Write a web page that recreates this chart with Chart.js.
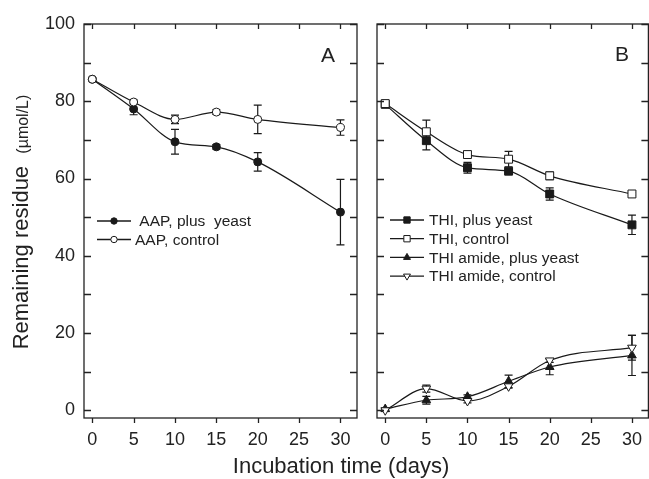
<!DOCTYPE html>
<html>
<head>
<meta charset="utf-8">
<script src="https://cdn.jsdelivr.net/npm/chart.js@4.4.1/dist/chart.umd.min.js"></script>
<style>
  html, body { margin: 0; padding: 0; background: #fff; overflow: hidden; }
  body { width: 649px; height: 479px; position: relative; font-family: "Liberation Sans", Arial, sans-serif; }
  #panelA { position: absolute; left: 0; top: 0; }
  #panelB { position: absolute; left: 365px; top: 0; }
  #xTitle { position: absolute; left: 0; width: 682px; top: 454px; text-align: center; font-size: 22px; line-height: 24px; color: #222; }
</style>
</head>
<body>
<canvas id="panelA" width="365" height="479"></canvas>
<canvas id="panelB" width="290" height="479"></canvas>
<div id="xTitle">Incubation time (days)</div>
<script>
// --- data ---
const days = [0, 5, 10, 15, 20, 30];
const xTicks = [0, 5, 10, 15, 20, 25, 30];
const yTicks = [0, 20, 40, 60, 80, 100];
const yMinorTicks = [10, 30, 50, 70, 90];

// panel A
const aapYeast = [85.7, 78.0, 69.5, 68.2, 64.3, 51.3];
const aapYeastErr = [0.4, 1.5, 3.2, 0.6, 2.4, 8.5];
const aapControl = [85.7, 79.8, 75.3, 77.2, 75.3, 73.2];
const aapControlErr = [0.3, 0.5, 1.1, 0.6, 3.7, 2.0];

// panel B
const thiYeast = [79.2, 69.8, 62.8, 61.9, 56.0, 48.0];
const thiYeastErr = [0.8, 2.4, 1.4, 0.5, 1.6, 2.5];
const thiControl = [79.4, 72.1, 66.2, 65.0, 60.7, 56.0];
const thiControlErr = [0.8, 3.0, 0.8, 2.0, 1.0, 0.4];
const amideYeast = [0.3, 2.6, 3.5, 7.5, 11.2, 14.2];
const amideYeastErr = [0.3, 1.0, 0.5, 1.6, 2.0, 5.2];
const amideControl = [0.0, 5.6, 2.4, 6.2, 12.9, 16.2];
const amideControlErr = [0.3, 0.9, 0.5, 0.5, 0.5, 3.2];

const INK = '#1a1a1a';
const FONT = '"Liberation Sans", Arial, sans-serif';

function points(values) {
    return days.map((d, i) => ({ x: d, y: values[i] }));
}

function series(label, values, errors, style, filled, order) {
    return {
        label: label,
        data: points(values),
        errors: errors,
        order: order,
        borderColor: INK,
        borderWidth: 1.2,
        cubicInterpolationMode: 'monotone',
        pointStyle: style.shape,
        pointRotation: style.rotation || 0,
        pointRadius: style.radius,
        pointBackgroundColor: filled ? INK : '#fff',
        pointBorderColor: INK,
        pointBorderWidth: 1
    };
}

// frame with inward ticks on top/left/right and outward ticks at the bottom
const frameAndTicks = {
    id: 'frameAndTicks',
    afterDraw(chart) {
        const { ctx, chartArea: a, scales: { x, y } } = chart;
        ctx.save();
        ctx.strokeStyle = '#222';
        ctx.lineWidth = 1.3;
        ctx.strokeRect(a.left, a.top, a.right - a.left, a.bottom - a.top);
        ctx.beginPath();
        xTicks.forEach(v => {
            const px = Math.round(x.getPixelForValue(v)) + 0.5;
            ctx.moveTo(px, a.bottom); ctx.lineTo(px, a.bottom + 5);
            ctx.moveTo(px, a.top); ctx.lineTo(px, a.top + 5);
        });
        yTicks.concat(yMinorTicks).forEach(v => {
            const py = Math.round(y.getPixelForValue(v)) + 0.5;
            ctx.moveTo(a.left, py); ctx.lineTo(a.left + 7, py);
            ctx.moveTo(a.right, py); ctx.lineTo(a.right - 7, py);
        });
        ctx.stroke();
        ctx.restore();
    }
};

// error bars, drawn under the markers
const errorBars = {
    id: 'errorBars',
    beforeDatasetsDraw(chart) {
        const { ctx, scales: { x, y } } = chart;
        ctx.save();
        ctx.strokeStyle = INK;
        ctx.lineWidth = 1.2;
        chart.data.datasets.forEach(ds => {
            ds.data.forEach((p, i) => {
                const e = ds.errors[i];
                if (!e) return;
                const px = x.getPixelForValue(p.x);
                const top = y.getPixelForValue(p.y + e);
                const bot = y.getPixelForValue(p.y - e);
                ctx.beginPath();
                ctx.moveTo(px, top); ctx.lineTo(px, bot);
                ctx.moveTo(px - 4, top); ctx.lineTo(px + 4, top);
                ctx.moveTo(px - 4, bot); ctx.lineTo(px + 4, bot);
                ctx.stroke();
            });
        });
        ctx.restore();
    }
};

// legend of the "—●— label" kind, placed inside the plot
function lineLegend(x0, y0, dy, textX, fontSize, labels) {
    return {
        id: 'lineLegend',
        afterDraw(chart) {
            const ctx = chart.ctx;
            ctx.save();
            ctx.font = fontSize + 'px ' + FONT;
            ctx.textBaseline = 'middle';
            ctx.textAlign = 'left';
            labels.forEach((label, i) => {
                const ds = chart.data.datasets[i];
                const yy = y0 + i * dy;
                ctx.strokeStyle = INK;
                ctx.lineWidth = 1.3;
                ctx.beginPath();
                ctx.moveTo(x0, yy); ctx.lineTo(x0 + 34, yy);
                ctx.stroke();
                ctx.fillStyle = ds.pointBackgroundColor;
                ctx.lineWidth = 1;
                Chart.helpers.drawPoint(ctx, {
                    pointStyle: ds.pointStyle,
                    rotation: ds.pointRotation,
                    radius: ds.pointRadius * 0.8,
                    borderWidth: 1
                }, x0 + 17, yy);
                ctx.fillStyle = '#222';
                ctx.fillText(label, textX, yy + 1);
            });
            ctx.restore();
        }
    };
}

function panelLetter(letter, x, y) {
    return {
        id: 'panelLetter',
        afterDraw(chart) {
            const ctx = chart.ctx;
            ctx.save();
            ctx.font = '21px ' + FONT;
            ctx.fillStyle = '#222';
            ctx.textAlign = 'center';
            ctx.textBaseline = 'middle';
            ctx.fillText(letter, x, y);
            ctx.restore();
        }
    };
}

const yTitle = {
    id: 'yTitle',
    afterDraw(chart) {
        const ctx = chart.ctx;
        const main = 'Remaining residue  ';
        const unit = '(µmol/L)';
        ctx.save();
        ctx.translate(28, 222);
        ctx.rotate(-Math.PI / 2);
        ctx.fillStyle = '#222';
        ctx.textBaseline = 'alphabetic';
        ctx.textAlign = 'left';
        ctx.font = '22px ' + FONT;
        const w1 = ctx.measureText(main).width;
        ctx.font = '16px ' + FONT;
        const w2 = ctx.measureText(unit).width;
        const start = -(w1 + w2) / 2;
        ctx.font = '22px ' + FONT;
        ctx.fillText(main, start, 0);
        ctx.font = '16px ' + FONT;
        ctx.fillText(unit, start + w1, 0);
        ctx.restore();
    }
};

function baseOptions(showYLabels, yWidth, padRight) {
    return {
        responsive: false,
        animation: false,
        devicePixelRatio: 1,
        layout: { padding: { top: 24, right: padRight, left: 0, bottom: 0 } },
        plugins: { legend: { display: false }, tooltip: { enabled: false } },
        scales: {
            x: {
                type: 'linear',
                min: -1,
                max: 32,
                afterBuildTicks: s => { s.ticks = xTicks.map(v => ({ value: v })); },
                afterFit: s => { s.height = 61; },
                grid: { display: false, drawTicks: false },
                border: { display: false },
                ticks: { color: '#222', padding: 11, maxRotation: 0, font: { family: FONT, size: 18 } }
            },
            y: {
                type: 'linear',
                min: -2,
                max: 100,
                afterBuildTicks: s => { s.ticks = yTicks.map(v => ({ value: v })); },
                afterFit: s => { s.width = yWidth; },
                grid: { display: false, drawTicks: false },
                border: { display: false },
                ticks: { display: showYLabels, color: '#222', padding: 9, font: { family: FONT, size: 18 } }
            }
        }
    };
}

function renderPanelA() {
    const ctx = document.getElementById('panelA').getContext('2d');
    new Chart(ctx, {
        type: 'line',
        data: {
            datasets: [
                series('AAP, plus  yeast', aapYeast, aapYeastErr, { shape: 'circle', radius: 4 }, true, 1),
                series('AAP, control', aapControl, aapControlErr, { shape: 'circle', radius: 4 }, false, 0)
            ]
        },
        options: baseOptions(true, 84, 8),
        plugins: [
            errorBars,
            frameAndTicks,
            lineLegend(97, 221, 18.5, 135, 15.5, [' AAP, plus  yeast', 'AAP, control']),
            panelLetter('A', 328, 56),
            yTitle
        ]
    });
}

function renderPanelB() {
    const ctx = document.getElementById('panelB').getContext('2d');
    new Chart(ctx, {
        type: 'line',
        data: {
            datasets: [
                series('THI, plus yeast', thiYeast, thiYeastErr, { shape: 'rect', radius: 5.6 }, true, 3),
                series('THI, control', thiControl, thiControlErr, { shape: 'rect', radius: 5.6 }, false, 2),
                series('THI amide, plus yeast', amideYeast, amideYeastErr, { shape: 'triangle', radius: 5 }, true, 1),
                series('THI amide, control', amideControl, amideControlErr, { shape: 'triangle', radius: 5, rotation: 180 }, false, 0)
            ]
        },
        options: baseOptions(false, 12, 4),
        plugins: [
            errorBars,
            frameAndTicks,
            lineLegend(25, 220, 18.7, 64, 15.5,
                ['THI, plus yeast', 'THI, control', 'THI amide, plus yeast', 'THI amide, control']),
            panelLetter('B', 257, 55)
        ]
    });
}

document.addEventListener('DOMContentLoaded', () => {
    renderPanelA();
    renderPanelB();
});
</script>
</body>
</html>
